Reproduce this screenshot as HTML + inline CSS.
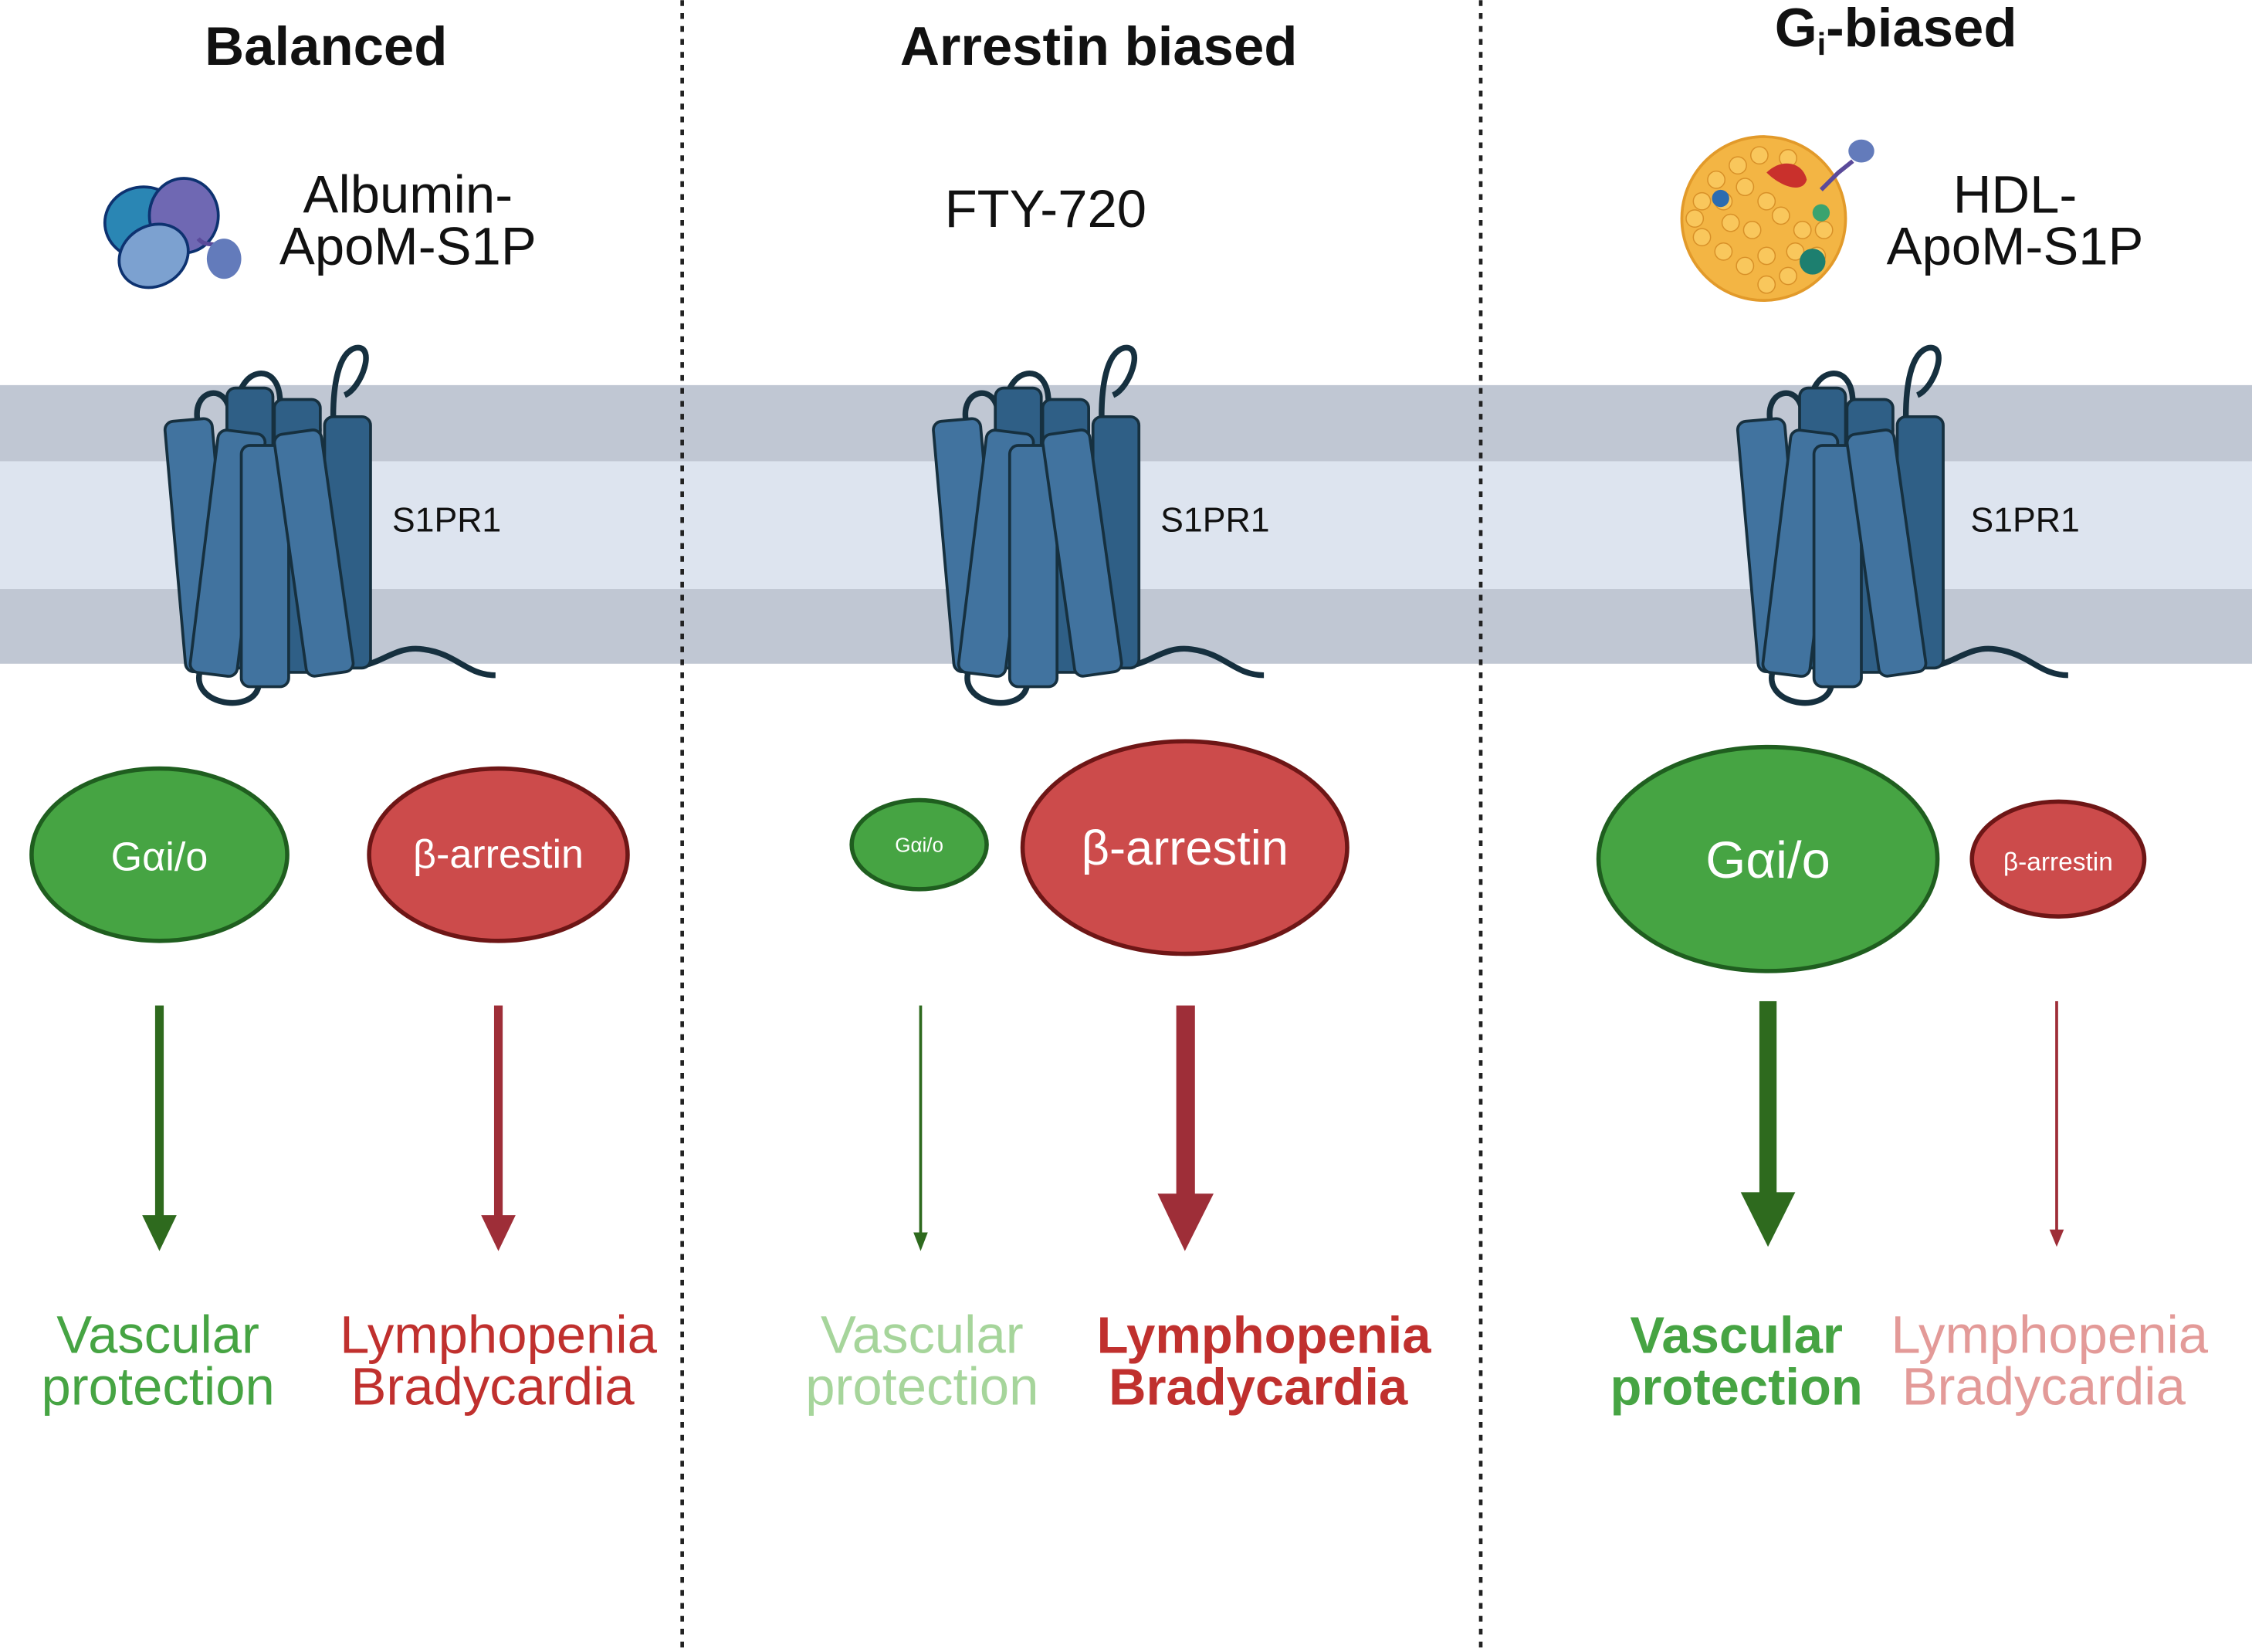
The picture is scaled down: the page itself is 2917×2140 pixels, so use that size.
<!DOCTYPE html>
<html><head><meta charset="utf-8"><style>
html,body{margin:0;padding:0;background:#fff}
svg{display:block}
text{font-family:"Liberation Sans",sans-serif}
</style></head><body>
<svg width="2917" height="2140" viewBox="0 0 1568 1150" xmlns="http://www.w3.org/2000/svg">
<defs>
<g id="rec">
  <path d="M138,295 C132,270 160,265 160,290 M165,285 C165,255 195,250 195,280 C195,300 175,305 180,285 M200,300 C205,280 222,282 222,300 M232,290 C232,270 235,245 248,242 C262,240 252,270 240,275" fill="none" stroke="#16303f" stroke-width="4"/>
  <path d="M140,465 C130,490 175,498 180,478 M238,462 C260,470 272,448 295,452 C318,455 325,470 345,470" fill="none" stroke="#16303f" stroke-width="4"/>
  <g fill="#2f5f86" stroke="#16303f" stroke-width="2">
    <rect x="158" y="270" width="32" height="195" rx="6"/>
    <rect x="191" y="278" width="32" height="190" rx="6"/>
    <rect x="226" y="290" width="32" height="175" rx="6"/>
  </g>
  <g fill="#41739f" stroke="#16303f" stroke-width="2">
    <rect x="122" y="292" width="33" height="175" rx="6" transform="rotate(-5 138 380)"/>
    <rect x="142" y="300" width="33" height="170" rx="6" transform="rotate(7 158 385)"/>
    <rect x="168" y="310" width="33" height="168" rx="6"/>
    <rect x="202" y="300" width="33" height="170" rx="6" transform="rotate(-8 218 385)"/>
  </g>
</g>
</defs>
<rect width="1568" height="1150" fill="#fff"/>
<rect x="0" y="268" width="1568" height="194" fill="#c0c7d3"/>
<rect x="0" y="321" width="1568" height="89" fill="#dde4ef"/>
<line x1="475" y1="0" x2="475" y2="1150" stroke="#222" stroke-width="2.5" stroke-dasharray="4,5"/>
<line x1="1031" y1="0" x2="1031" y2="1150" stroke="#222" stroke-width="2.5" stroke-dasharray="4,5"/>

<g font-weight="bold" font-size="38" text-anchor="middle" fill="#111">
<text x="227" y="45">Balanced</text>
<text x="765" y="45">Arrestin biased</text>
<text x="1320" y="32">G<tspan font-size="22" dy="6">i</tspan><tspan dy="-6">-biased</tspan></text>
</g>

<g font-size="37" text-anchor="middle" fill="#111">
<text x="284" y="148">Albumin-</text><text x="284" y="184">ApoM-S1P</text>
<text x="728" y="158">FTY-720</text>
<text x="1403" y="148">HDL-</text><text x="1403" y="184">ApoM-S1P</text>
</g>

<!-- albumin icon -->
<g stroke="#0d3270" stroke-width="2">
<ellipse cx="100" cy="155" rx="27" ry="25" fill="#2a86b4"/>
<ellipse cx="128" cy="150" rx="24" ry="26" fill="#6f68b3"/>
<ellipse cx="107" cy="178" rx="25" ry="21" fill="#7ca1d0" transform="rotate(-30 107 178)"/>
</g>
<path d="M138,166 C143,172 148,168 153,172 C157,176 160,174 154,178" fill="none" stroke="#5a4a9a" stroke-width="3"/>
<ellipse cx="156" cy="180" rx="12" ry="14" fill="#637bbb"/>
<!-- HDL icon -->
<circle cx="1228" cy="152" r="57" fill="#f3b544" stroke="#e29a2a" stroke-width="2"/>
<g fill="#f9c75c" stroke="#d89028" stroke-width="0.8">
<circle cx="1195" cy="125" r="6"/><circle cx="1210" cy="115" r="6"/><circle cx="1225" cy="108" r="6"/><circle cx="1185" cy="140" r="6"/><circle cx="1200" cy="140" r="6"/><circle cx="1215" cy="130" r="6"/><circle cx="1230" cy="140" r="6"/><circle cx="1205" cy="155" r="6"/><circle cx="1220" cy="160" r="6"/><circle cx="1240" cy="150" r="6"/><circle cx="1255" cy="160" r="6"/><circle cx="1185" cy="165" r="6"/><circle cx="1200" cy="175" r="6"/><circle cx="1215" cy="185" r="6"/><circle cx="1230" cy="178" r="6"/><circle cx="1245" cy="192" r="6"/><circle cx="1230" cy="198" r="6"/><circle cx="1265" cy="178" r="6"/><circle cx="1250" cy="175" r="6"/><circle cx="1270" cy="160" r="6"/><circle cx="1180" cy="152" r="6"/><circle cx="1245" cy="110" r="6"/>
</g>
<path d="M1230,120 C1240,110 1255,112 1258,125 C1255,135 1240,130 1230,120Z" fill="#c9302c"/>
<circle cx="1262" cy="182" r="9" fill="#1d7f6f"/>
<circle cx="1198" cy="138" r="6" fill="#2b6cb0"/>
<circle cx="1268" cy="148" r="6" fill="#3aa36f"/>
<path d="M1268,132 L1280,120 L1290,112" stroke="#5a4a9a" stroke-width="3" fill="none"/>
<ellipse cx="1296" cy="105" rx="9" ry="8" fill="#637bbb"/>

<use href="#rec" x="0" y="0"/>
<use href="#rec" x="535" y="0"/>
<use href="#rec" x="1095" y="0"/>
<g font-size="24" fill="#111">
<text x="273" y="370">S1PR1</text>
<text x="808" y="370">S1PR1</text>
<text x="1372" y="370">S1PR1</text>
</g>

<!-- ellipses -->
<g fill="#46a443" stroke="#1f5e1f" stroke-width="3">
<ellipse cx="111" cy="595" rx="89" ry="60"/>
<ellipse cx="640" cy="588" rx="47" ry="31"/>
<ellipse cx="1231" cy="598" rx="118" ry="78"/>
</g>
<g fill="#cc4b4b" stroke="#6e1616" stroke-width="3">
<ellipse cx="347" cy="595" rx="90" ry="60"/>
<ellipse cx="825" cy="590" rx="113" ry="74"/>
<ellipse cx="1433" cy="598" rx="60" ry="40"/>
</g>
<g fill="#fff" text-anchor="middle">
<text x="111" y="606" font-size="28">Gαi/o</text>
<text x="347" y="604" font-size="28">β-arrestin</text>
<text x="640" y="593" font-size="14">Gαi/o</text>
<text x="825" y="602" font-size="34">β-arrestin</text>
<text x="1231" y="611" font-size="36">Gαi/o</text>
<text x="1433" y="606" font-size="18">β-arrestin</text>
</g>

<!-- arrows -->
<g fill="#2e6a1e">
<rect x="108" y="700" width="6" height="148"/><polygon points="99,846 123,846 111,871"/>
<rect x="640" y="700" width="2" height="160"/><polygon points="636,858 646,858 641,871"/>
<rect x="1225" y="697" width="12" height="136"/><polygon points="1212,830 1250,830 1231,868"/>
</g>
<g fill="#9e2e38">
<rect x="344" y="700" width="6" height="148"/><polygon points="335,846 359,846 347,871"/>
<rect x="819" y="700" width="13" height="133"/><polygon points="806,831 845,831 825,871"/>
<rect x="1431" y="697" width="2" height="160"/><polygon points="1427,856 1437,856 1432,868"/>
</g>

<g font-size="37" text-anchor="middle">
<text x="110" y="942" fill="#46a443">Vascular</text><text x="110" y="978" fill="#46a443">protection</text>
<text x="347" y="942" fill="#c0302e">Lymphopenia</text><text x="343" y="978" fill="#c0302e">Bradycardia</text>
<text x="642" y="942" fill="#a6d59b">Vascular</text><text x="642" y="978" fill="#a6d59b">protection</text>
<text x="880" y="942" fill="#c0302e" font-weight="bold" font-size="36">Lymphopenia</text><text x="876" y="978" fill="#c0302e" font-weight="bold" font-size="36">Bradycardia</text>
<text x="1209" y="942" fill="#46a443" font-weight="bold" font-size="36">Vascular</text><text x="1209" y="978" fill="#46a443" font-weight="bold" font-size="36">protection</text>
<text x="1427" y="942" fill="#e39a98">Lymphopenia</text><text x="1423" y="978" fill="#e39a98">Bradycardia</text>
</g>
</svg>
</body></html>
